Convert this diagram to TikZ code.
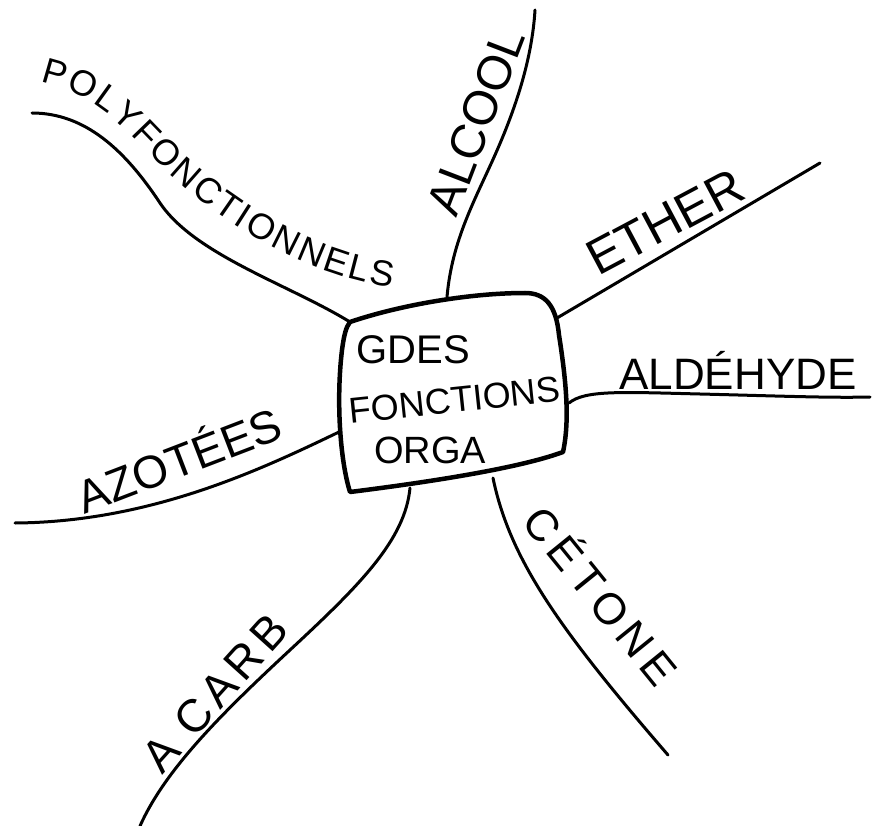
\documentclass[tikz,border=0pt]{standalone}
\usepackage{fontspec}
\setmainfont{Liberation Sans}
\usetikzlibrary{decorations.text}
\begin{document}
\begin{tikzpicture}[x=1pt,y=-1pt,
  branch/.style={line width=3pt, line cap=round, line join=round},
  boxline/.style={line width=4.5pt, line cap=round, line join=round},
  lbl/.style={inner sep=0pt, font=\fontsize{#1}{#1}\selectfont},
  slbl/.style 2 args={inner sep=0pt, font=\addfontfeature{LetterSpace=#2}\fontsize{#1}{#1}\selectfont},
  ]
\useasboundingbox[fill=white] (0,0) rectangle (878,826);

% central box
\draw[boxline] (350,322) .. controls (400,305) and (470,293) .. (525,293)
  .. controls (545,293) and (556,305) .. (559,335)
  .. controls (566,380) and (570,420) .. (563,452)
  .. controls (520,468) and (430,482) .. (350,492)
  .. controls (340,460) and (336,400) .. (342,350)
  .. controls (344,335) and (346,327) .. (350,322) -- cycle;

\node[lbl=40] (t1) at (413,350) {GDES};
\node[lbl=36, rotate=6] (t2) at (455,400) {FONCTIONS};
\node[lbl=38] (t3) at (430,450) {ORGA};

% anchor points on the box
\coordinate (p0) at (350,322);
\coordinate (a0) at (447,297);
\coordinate (e0) at (557,318);
\coordinate (d0) at (569,403);
\coordinate (z0) at (339,432);
\coordinate (c0) at (410,488);
\coordinate (k0) at (493,478);

% free ends
\coordinate (pE) at (32,113);
\coordinate (aE) at (535,10);
\coordinate (eE) at (820,163);
\coordinate (dE) at (870,397);
\coordinate (zE) at (15,523);
\coordinate (cE) at (140,826);
\coordinate (kE) at (668,755);

% branches
\draw[branch] (pE) .. controls (85,113) and (125,150) .. (160,203)
  .. controls (195,255) and (290,285) .. (p0);
\draw[branch] (a0) .. controls (452,240) and (475,200) .. (495,155)
  .. controls (515,110) and (532,60) .. (aE);
\draw[branch] (e0) -- (eE);
\draw[branch] (d0) .. controls (585,390) and (620,392) .. (700,394)
  .. controls (780,396) and (830,398) .. (dE);
\draw[branch] (z0) .. controls (260,470) and (150,522) .. (zE);
\draw[branch] (c0) .. controls (405,540) and (360,585) .. (290,650)
  .. controls (220,715) and (165,770) .. (cE);
\draw[branch] (k0) .. controls (510,560) and (560,630) .. (kE);

% labels
\path[decorate, decoration={text along path,
    text={|\fontsize{36}{36}\selectfont|POLYFONCTIONNELS},
    text align={fit to path}}]
  (40,82) .. controls (100,95) and (125,130) .. (160,165)
  .. controls (210,215) and (300,275) .. (392,287);

\node[lbl=48, rotate=69] (lalc) at (476,122) {ALCOOL};
\node[lbl=50, rotate=28] (leth) at (665,222) {ETHER};
\node[lbl=44] (lald) at (738,370) {ALDÉHYDE};
\node[lbl=46, rotate=21] (lazo) at (178,458) {AZOTÉES};
\node[slbl={46}{12}, rotate=48] (lacb) at (215,693) {A CARB};
\node[slbl={44}{15}, rotate=-51] (lcet) at (603,594) {CÉTONE};
\end{tikzpicture}
\end{document}
